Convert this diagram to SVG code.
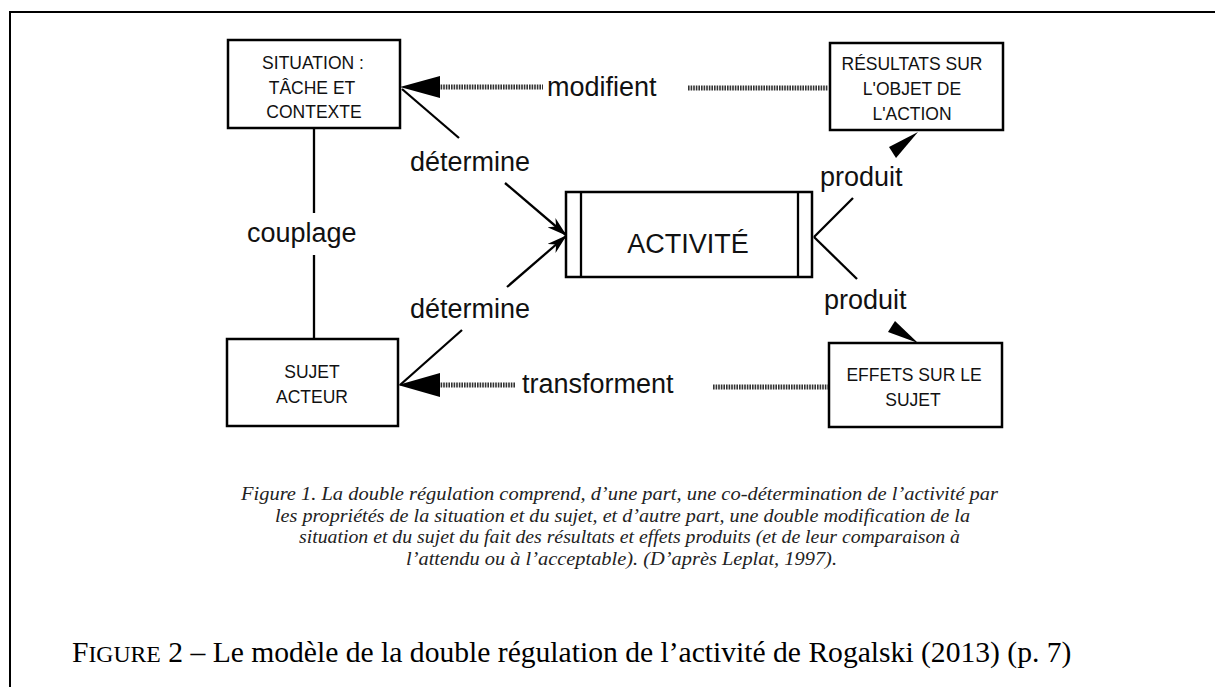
<svg xmlns="http://www.w3.org/2000/svg" width="1215" height="687" viewBox="0 0 1215 687">
<defs>
<style>
.box{fill:#fff;stroke:#000;stroke-width:2.5}
.bt{font-family:"Liberation Sans",Arial,sans-serif;font-size:17.5px;text-anchor:middle;fill:#111}
.lbl{font-family:"Liberation Sans",Arial,sans-serif;font-size:27px;fill:#111}
.ln{stroke:#000;stroke-width:2.3;fill:none}
.hatch{stroke:#333;stroke-width:5;stroke-dasharray:1.6 1;fill:none}
.cap{font-family:"Liberation Serif","Times New Roman",serif;font-style:italic;font-size:19px;fill:#222}
.fig{font-family:"Liberation Serif","Times New Roman",serif;font-size:29.6px;fill:#000}
</style>
<marker id="det" viewBox="0 0 20 12" refX="19" refY="6" markerWidth="20" markerHeight="12" markerUnits="userSpaceOnUse" orient="auto">
<path d="M0,0 L20,6 L0,12 L6,6 z" fill="#000"/>
</marker>
</defs>
<rect width="1215" height="687" fill="#fff"/>
<path d="M9,12 H1215 M10,12 V687" stroke="#000" stroke-width="2" fill="none"/>

<g id="situation">
<rect class="box" x="228" y="40" width="172" height="88"/>
<text class="bt" x="313" y="69">SITUATION :</text>
<text class="bt" x="312" y="94">TÂCHE ET</text>
<text class="bt" x="314" y="118">CONTEXTE</text>
</g>
<g id="resultats">
<rect class="box" x="830" y="43" width="173" height="87"/>
<text class="bt" x="912" y="70">RÉSULTATS SUR</text>
<text class="bt" x="912" y="95">L'OBJET DE</text>
<text class="bt" x="912" y="120">L'ACTION</text>
</g>
<g id="activite">
<rect class="box" x="566" y="192" width="246" height="85"/>
<line class="ln" x1="581" y1="192" x2="581" y2="277"/>
<line class="ln" x1="798" y1="192" x2="798" y2="277"/>
<text class="lbl" x="688" y="253" text-anchor="middle">ACTIVITÉ</text>
</g>
<g id="sujet">
<rect class="box" x="227" y="339" width="171" height="87"/>
<text class="bt" x="312" y="378">SUJET</text>
<text class="bt" x="312" y="403">ACTEUR</text>
</g>
<g id="effets">
<rect class="box" x="829" y="343" width="173" height="84"/>
<text class="bt" x="914" y="381">EFFETS SUR LE</text>
<text class="bt" x="913" y="406">SUJET</text>
</g>

<g id="connectors">
<!-- modifient -->
<path class="hatch" d="M438,87 H543 M688,88 H828"/>
<path d="M400,87 L440,76 L440,98 z" fill="#000"/>
<text class="lbl" x="547" y="96">modifient</text>
<!-- transforment -->
<path class="hatch" d="M438,385 H515 M713,387 H828"/>
<path d="M398,385 L440,373 L440,397 z" fill="#000"/>
<text class="lbl" x="522" y="393">transforment</text>
<!-- couplage -->
<path class="ln" d="M314,128 V213 M314,255 V339"/>
<text class="lbl" x="247" y="242">couplage</text>
<!-- détermine top -->
<path class="ln" d="M402,89 L459,138"/>
<path class="ln" d="M505,183 L566,235" marker-end="url(#det)"/>
<text class="lbl" x="410" y="171">détermine</text>
<!-- détermine bottom -->
<path class="ln" d="M507,287 L566,236" marker-end="url(#det)"/>
<path class="ln" d="M462,330 L400,385"/>
<text class="lbl" x="410" y="318">détermine</text>
<!-- produit top -->
<path class="ln" d="M814,237 L853,198"/>
<path d="M918,132 L889,147 L896,158 z" fill="#000"/>
<text class="lbl" x="820" y="186">produit</text>
<!-- produit bottom -->
<path class="ln" d="M814,237 L857,279"/>
<path d="M918,343 L895,321 L888,332 z" fill="#000"/>
<text class="lbl" x="824" y="309">produit</text>
</g>

<g id="caption">
<text class="cap" x="241" y="500" textLength="757" lengthAdjust="spacingAndGlyphs">Figure 1. La double régulation comprend, d’une part, une co-détermination de l’activité par</text>
<text class="cap" x="275" y="521.5" textLength="695" lengthAdjust="spacingAndGlyphs">les propriétés de la situation et du sujet, et d’autre part, une double modification de la</text>
<text class="cap" x="299" y="543" textLength="661" lengthAdjust="spacingAndGlyphs">situation et du sujet du fait des résultats et effets produits (et de leur comparaison à</text>
<text class="cap" x="406" y="564.5" textLength="431" lengthAdjust="spacingAndGlyphs">l’attendu ou à l’acceptable). (D’après Leplat, 1997).</text>
<text class="fig" x="72" y="662">F<tspan font-size="23.7">IGURE</tspan> 2 – Le modèle de la double régulation de l’activité de Rogalski (2013) (p. 7)</text>
</g>
</svg>
